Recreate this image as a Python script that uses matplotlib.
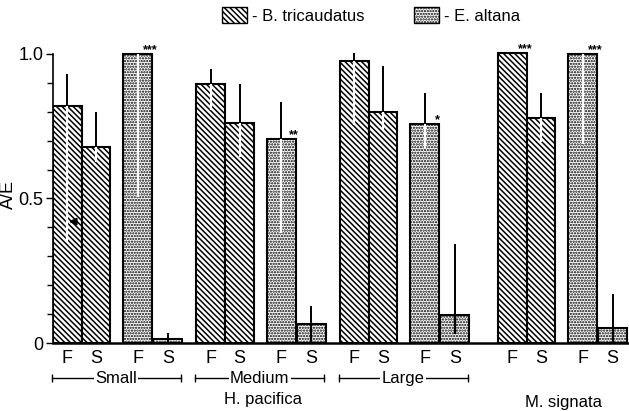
import matplotlib
matplotlib.use("Agg")
import matplotlib.pyplot as plt
import matplotlib.transforms as mtransforms
import numpy as np
from matplotlib.patches import Patch

# A/E values, one entry per group
groups = ["Small", "Medium", "Large", "M. signata"]
bt_F = [0.82, 0.896, 0.976, 1.004]
bt_S = [0.677, 0.76, 0.80, 0.777]
ea_F = [1.0, 0.707, 0.758, 1.0]
ea_S = [0.014, 0.066, 0.096, 0.053]

# error bar ends (upper / lower), nan = no bar
bt_F_hi = [0.93, 0.947, 1.005, np.nan]
bt_F_lo = [0.35, 0.806, 0.754, np.nan]
bt_S_hi = [0.80, 0.895, 0.958, 0.864]
bt_S_lo = [0.627, 0.645, 0.737, 0.697]
ea_F_hi = [1.0, 0.835, 0.864, 1.0]
ea_F_lo = [0.506, 0.38, 0.674, 0.69]
ea_S_hi = [0.033, 0.128, 0.342, 0.17]
ea_S_lo = [0.0, 0.0, 0.03, 0.0]

bt_stars = ["", "", "", "***"]
ea_stars = ["***", "**", "*", "***"]

plt.rcParams["font.family"] = "Liberation Sans"
plt.rcParams["hatch.linewidth"] = 1.1

BT_HATCH = "\\" * 6
EA_HATCH = "." * 6

fig = plt.figure(figsize=(6.29, 4.11), dpi=100)
ax = fig.add_axes([53 / 629, 68 / 411, 576 / 629, 1.03 * 289 / 411])
ax.set_xlim(-0.5, 19.57)
ax.set_ylim(0, 1.03)

group_x = [0, 5, 10, 15.5]
bar_off = np.array([0, 1, 2.45, 3.5])

tick_pos = []
for i, g in enumerate(group_x):
    xs = g + bar_off
    vals = [bt_F[i], bt_S[i], ea_F[i], ea_S[i]]
    his = [bt_F_hi[i], bt_S_hi[i], ea_F_hi[i], ea_S_hi[i]]
    los = [bt_F_lo[i], bt_S_lo[i], ea_F_lo[i], ea_S_lo[i]]
    ax.bar(xs[:2], vals[:2], width=1, facecolor="white", edgecolor="black",
           hatch=BT_HATCH, linewidth=1.5, zorder=2)
    ax.bar(xs[2:], vals[2:], width=1, facecolor="white", edgecolor="black",
           hatch=EA_HATCH, linewidth=1.5, zorder=2)
    for x, v, hi, lo in zip(xs, vals, his, los):
        if np.isnan(hi):
            continue
        inner = "white" if v > 0.3 else "black"
        if lo < v:
            ax.vlines(x, lo, min(hi, v), color=inner, lw=1.6, zorder=3)
        if hi > v:
            ax.vlines(x, max(lo, v), hi, color="black", lw=1.4, zorder=3)
    for x, v, s in [(xs[0], vals[0], bt_stars[i]), (xs[2], vals[2], ea_stars[i])]:
        if s:
            ax.text(x + 0.45, v + 0.012, s, fontsize=9, fontweight="bold",
                    ha="center", va="center")
    tick_pos += list(xs)

# little arrow on the first bar
ax.annotate("", xy=(-0.05, 0.42), xytext=(0.4, 0.42),
            arrowprops=dict(arrowstyle="-|>", color="black", lw=1.5), zorder=4)

ax.set_xticks(tick_pos)
ax.set_xticklabels(["F", "S"] * 8, fontsize=13)
ax.tick_params(axis="x", length=0, pad=5)

ax.set_yticks([0, 0.5, 1.0])
ax.set_yticklabels(["0", "0.5", "1.0"], fontsize=13)
ax.set_yticks(np.arange(0, 1.01, 0.1), minor=True)
ax.tick_params(axis="y", which="major", length=5, width=1, pad=2)
ax.tick_params(axis="y", which="minor", length=4, width=1)
ax.set_ylabel("A/E", fontsize=13)
ax.yaxis.set_label_coords(-0.062, 0.5)

for s in ["top", "right"]:
    ax.spines[s].set_visible(False)
ax.spines["left"].set_bounds(0, 1.0)
ax.spines["left"].set_linewidth(1.2)
ax.spines["bottom"].set_linewidth(1.8)

# size brackets under H. pacifica
trans = mtransforms.blended_transform_factory(ax.transData, ax.transAxes)
for g, name in zip(group_x[:3], groups[:3]):
    ax.plot([g - 0.55, g + 3.95], [-0.118, -0.118], color="black", lw=1,
            transform=trans, clip_on=False)
    ax.plot([g - 0.55, g + 3.95], [-0.118, -0.118], ls="none", marker="|",
            ms=6, color="black", transform=trans, clip_on=False)
    ax.text(g + 1.7, -0.118, name, fontsize=12, ha="center", va="center",
            transform=trans, bbox=dict(facecolor="white", edgecolor="none", pad=1))

ax.text(6.8, -0.19, "H. pacifica", fontsize=12, ha="center", va="center", transform=trans)
ax.text(17.3, -0.20, "M. signata", fontsize=12, ha="center", va="center", transform=trans)

handles = [Patch(facecolor="white", edgecolor="black", hatch=BT_HATCH, label="- B. tricaudatus"),
           Patch(facecolor="white", edgecolor="black", hatch=EA_HATCH, label="- E. altana")]
fig.legend(handles=handles, loc="center", bbox_to_anchor=(0.59, 0.963), ncol=2,
           frameon=False, fontsize=12, handlelength=1.5, handleheight=1.1,
           handletextpad=0.3, columnspacing=3)

fig.savefig("out.png", dpi=100)
